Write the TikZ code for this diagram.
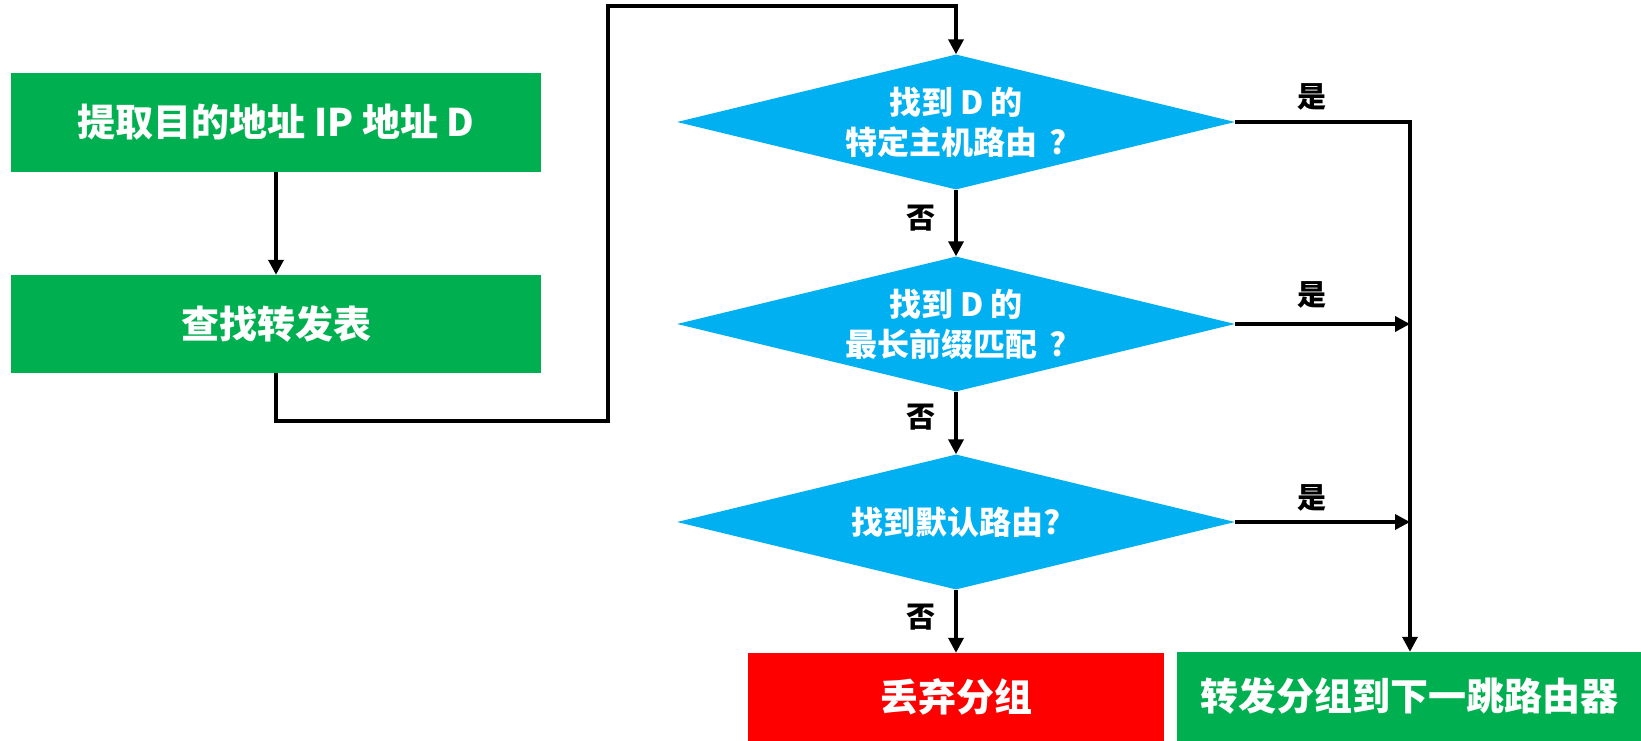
\documentclass[tikz,border=0pt]{standalone}
\usepackage{fontspec}
\setmainfont{Noto Sans CJK SC}
\usetikzlibrary{shapes.geometric,arrows.meta}
\definecolor{boxgreen}{HTML}{00B050}
\definecolor{dblue}{HTML}{00B0F0}
\definecolor{boxred}{HTML}{FF0000}
\tikzset{
  procbox/.style={rectangle, inner sep=0pt, text=white, font=\bfseries\fontsize{38}{46}\selectfont, align=center},
  decide/.style={diamond, fill=dblue, inner sep=0pt, aspect=4.13, minimum width=558pt, minimum height=135pt, text=white, font=\bfseries\fontsize{32}{40}\selectfont, align=center},
  conn/.style={line width=3.5pt, line join=miter, draw=black},
  arr/.style={conn, -{Triangle[length=15pt,width=15pt]}},
  lbl/.style={inner sep=0pt, font=\bfseries\fontsize{29}{34}\selectfont}
}
\begin{document}
\begin{tikzpicture}[x=1pt,y=-1pt]
\useasboundingbox (0,0) rectangle (1641,741);
\node[procbox, fill=boxgreen, minimum width=530pt, minimum height=99pt] (b1) at (276,122.5) {提取目的地址 IP 地址 D};
\node[procbox, fill=boxgreen, minimum width=530pt, minimum height=98pt] (b2) at (276,324) {查找转发表};
\node[decide] (d1) at (956,122) {找到 D 的\\特定主机路由\hspace{0.35em}?};
\node[decide] (d2) at (956,324) {找到 D 的\\最长前缀匹配\hspace{0.35em}?};
\node[decide] (d3) at (956,522) {找到默认路由?};
\node[procbox, fill=boxred, minimum width=416pt, minimum height=88pt] (drop) at (956,697) {丢弃分组};
\node[procbox, fill=boxgreen, minimum width=464pt, minimum height=89pt] (fwd) at (1409,696.5) {转发分组到下一跳路由器};
\coordinate (r1) at (608,421);
\coordinate (r2) at (608,6);
\coordinate (j) at (1410,122);
\draw[arr] (b1.south) -- (b2.north);
\draw[arr] (b2.south) |- (r1) -- (r2) -| (d1.north);
\draw[arr] (d1.south) -- (d2.north);
\draw[arr] (d2.south) -- (d3.north);
\draw[arr] (d3.south) -- (drop.north);
\draw[arr] (d1.east) -- (j) -- (j |- fwd.north);
\draw[arr] (d2.east) -- (j |- d2.east);
\draw[arr] (d3.east) -- (j |- d3.east);
\node[lbl] (n1) at (921,218) {否};
\node[lbl] (n2) at (921,417) {否};
\node[lbl] (n3) at (921,617) {否};
\node[lbl] (y1) at (1312,97) {是};
\node[lbl] (y2) at (1312,295) {是};
\node[lbl] (y3) at (1312,498) {是};
\end{tikzpicture}
\end{document}
